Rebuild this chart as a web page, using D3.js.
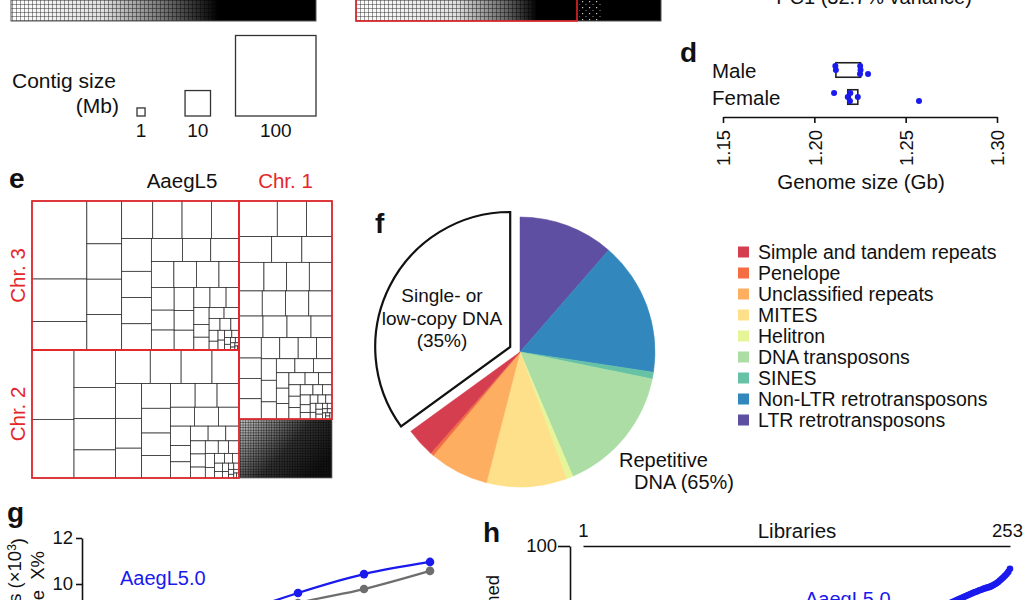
<!DOCTYPE html>
<html><head><meta charset="utf-8">
<script src="https://cdn.jsdelivr.net/npm/d3@7"></script>
<style>
body{margin:0;background:#fff}
svg{display:block}
text{font-family:"Liberation Sans",Arial,Helvetica,sans-serif;fill:#111}
</style>
</head><body>
<svg id="c" width="1024" height="600"></svg>
<script>
// ================= DATA =================
// panel c (legend of contig sizes)
const contigLegendMb = [1, 10, 100];
const contigLegendLabels = ["1", "10", "100"];
// panel d (genome size by flow cytometry, Gb)
const sexes = ["Male", "Female"];
const maleGb = [1.2115, 1.2118, 1.2250, 1.2251, 1.2253, 1.2294];
const femaleGb = [1.2108, 1.2183, 1.2195, 1.2197, 1.2238, 1.2573];
const genomeTicks = [1.15, 1.20, 1.25, 1.30];
// panel e (contig sizes in Mb per chromosome)
const chr3Contigs = [66,36,24,23,19,19,19,18,17,17,16,15,12,12,12,11,10,10,9,9,9,8,8,7,7,7,6,6,5,5,4,4,3,3,2.5,2.5,2,2,1.5,1.5,1.2,1,1,0.8,0.8,0.6,0.5,0.4,0.3,0.3,0.2,0.2,0.15,0.1];
const chr2Contigs = [45,38,24,20,20,18,18,16,16,14,14,12,12,11,11,10,10,9,8,8,7,7,6,6,5,5,4,4,3,3,3,2.5,2.5,2,2,2,1.5,1.5,1.2,1,1,0.8,0.8,0.6,0.5,0.5,0.4,0.3,0.3,0.2,0.2];
const chr1Contigs = [21,16,14,13,12,12,11,10,10,10,9,9,9,9,8,8,8,7,7,7,7,7,6,6,6,5,5,5,4,4,4,4,3,3,3,3,2.5,2.5,2,2,2,2,1.5,1.5,1.5,1.2,1,1,1,0.8,0.8,0.6,0.6,0.5,0.5,0.4,0.4,0.3,0.3,0.3,0.2,0.2,0.2];
const unplacedMb = 84.5;
// panel f (genome composition, %)
const repeatClasses = ["Simple and tandem repeats","Penelope","Unclassified repeats","MITES","Helitron","DNA transposons","SINES","Non-LTR retrotransposons","LTR retrotransposons"];
const repeatPct = [3.5, 0.4, 7.1, 9.6, 0.8, 15.4, 0.8, 16.0, 11.4];
const singleCopyPct = 35;
// panel g
const coverageX = [40, 50, 60, 70, 80, 90];
const aaegL5Genes = [5.6, 7.3, 8.6, 9.61, 10.43, 10.96];
const aaegL3Genes = [4.9, 6.6, 8.3, 9.17, 9.78, 10.57];
const gTicks = [4, 6, 8, 10, 12];
// panel h (aligned %, libraries 215..253, sorted)
const libFirst = 215;
const alignedTail = [76.5,77.0,77.3,77.6,77.9,78.2,78.5,78.8,79.1,79.4,79.7,80.0,80.3,80.6,80.9,81.2,81.5,81.8,82.0,82.3,82.6,82.8,83.1,83.3,83.5,83.7,83.9,84.2,84.5,84.9,85.3,85.8,86.4,87.0,87.6,88.3,89.0,89.8,91.0];
const libraryEnds = [1, 253];

// ================= STYLE =================
const repeatColors = ["#d53e4f","#f46d43","#fdae61","#fee08b","#e6f598","#abdda4","#66c2a5","#3288bd","#5e4fa2"];
const RED = "#e5262a", BLUE = "#1a1aee", GRAY = "#6e6e6e";
const FONT = '"Liberation Sans",Arial,sans-serif';

const svg = d3.select("#c");
const defs = svg.append("defs");
function gridPattern(id, s, col, sw){
  const p = defs.append("pattern").attr("id",id).attr("patternUnits","userSpaceOnUse").attr("width",s).attr("height",s);
  p.append("rect").attr("width",s).attr("height",s).attr("fill","#fff");
  p.append("path").attr("d",`M0,0H${s}M0,0V${s}`).attr("stroke",col).attr("stroke-width",sw).attr("fill","none");
}
gridPattern("gridA", 4, "#222", 0.9);
gridPattern("gridB", 2.6, "#111", 0.8);
function fade(id, stops, x2, y2){
  const g = defs.append("linearGradient").attr("id",id).attr("x1",0).attr("y1",0).attr("x2",x2).attr("y2",y2);
  stops.forEach(([o,a]) => g.append("stop").attr("offset",o).attr("stop-color","#000").attr("stop-opacity",a));
}
fade("fadeL", [[0,0],[0.3,0.12],[0.5,0.55],[0.68,1],[1,1]], 1, 0);
fade("fadeR", [[0,0],[0.45,0.12],[0.68,0.6],[0.82,1],[1,1]], 1, 0);
fade("fadeU", [[0,0.2],[0.25,0.45],[0.6,0.8],[1,0.93]], 1, 0.6);
const sp = defs.append("pattern").attr("id","speck").attr("patternUnits","userSpaceOnUse").attr("width",7).attr("height",6);
sp.append("rect").attr("width",7).attr("height",6).attr("fill","#000");
sp.append("rect").attr("x",1).attr("y",1).attr("width",1.2).attr("height",1.2).attr("fill","#fff");
sp.append("rect").attr("x",4.5).attr("y",4).attr("width",1).attr("height",1).attr("fill","#bbb");

// ================= TOP STRIPS (bottoms of panels a, b) =================
function strip(x, w, fadeId){
  svg.append("rect").attr("x",x).attr("y",-10).attr("width",w).attr("height",31).attr("fill","url(#gridA)");
  svg.append("rect").attr("x",x).attr("y",-10).attr("width",w).attr("height",31).attr("fill",`url(#${fadeId})`);
}
strip(11, 305, "fadeL");
svg.append("rect").attr("x",11).attr("y",-10).attr("width",305).attr("height",31).attr("fill","none").attr("stroke","#555").attr("stroke-width",1);
strip(356, 221, "fadeR");
svg.append("rect").attr("x",577).attr("y",-10).attr("width",84).attr("height",31).attr("fill","#000");
svg.append("rect").attr("x",579).attr("y",-10).attr("width",22).attr("height",31).attr("fill","url(#speck)").attr("opacity",0.8);
svg.append("rect").attr("x",356).attr("y",-10).attr("width",305).attr("height",31).attr("fill","none").attr("stroke","#555").attr("stroke-width",1);
svg.append("rect").attr("x",356).attr("y",-10).attr("width",221).attr("height",31).attr("fill","none").attr("stroke",RED).attr("stroke-width",1.6);

svg.append("text").attr("x",874).attr("y",4).attr("text-anchor","middle").style("font-size","20px").text("PC1 (32.7% variance)");

// ================= CONTIG SIZE LEGEND =================
svg.append("text").attr("x",12).attr("y",88).style("font-size","21px").text("Contig size");
svg.append("text").attr("x",119).attr("y",113).attr("text-anchor","end").style("font-size","21px").text("(Mb)");
const sqScale = d3.scaleSqrt().domain([0,100]).range([0,80.5]);
const legGaps = [0, 40, 25];
let cx = 137; const legPos = [];
contigLegendMb.forEach((v,i) => { cx += legGaps[i]; legPos.push(cx); cx += sqScale(v); });
const legG = svg.append("g");
contigLegendMb.forEach((v,i) => {
  const s = sqScale(v);
  legG.append("rect").attr("x",legPos[i]).attr("y",116-s).attr("width",s).attr("height",s)
    .attr("fill","#fff").attr("stroke","#333").attr("stroke-width",1.3);
  legG.append("text").attr("x",legPos[i]+s/2).attr("y",137).attr("text-anchor","middle").style("font-size","19px").text(contigLegendLabels[i]);
});

// ================= PANEL d =================
svg.append("text").attr("x",680).attr("y",62).style("font-size","28px").style("font-weight","bold").text("d");
const xD = d3.scaleLinear().domain([1.15,1.30]).range([723,997]);
const yD = d3.scalePoint().domain(sexes).range([70,97]);
sexes.forEach(s => svg.append("text").attr("x",712).attr("y",yD(s)+8).style("font-size","20.5px").text(s));
const axD = svg.append("g").attr("transform","translate(0,117)")
  .call(d3.axisBottom(xD).tickValues(genomeTicks).tickFormat(d3.format(".2f")).tickSize(6).tickSizeOuter(0));
axD.select(".domain").attr("stroke","#111").attr("stroke-width",1.6);
axD.selectAll(".tick line").attr("stroke","#111").attr("stroke-width",1.6);
axD.selectAll(".tick text").attr("transform","rotate(-90)").attr("text-anchor","end")
  .attr("x",-13).attr("y",0).attr("dy","0.36em").style("font-size","18.5px")
  .style("font-family",FONT).attr("fill","#111");
svg.append("text").attr("x",861).attr("y",189).attr("text-anchor","middle").style("font-size","20.5px").text("Genome size (Gb)");
function tukey(arr){
  const s = arr.slice().sort(d3.ascending), n = s.length, h = Math.floor(n/2);
  const lo = s.slice(0, n%2 ? h+1 : h), hi = s.slice(h);
  return {q1:d3.median(lo), med:d3.median(s), q3:d3.median(hi)};
}
[[sexes[0], maleGb],[sexes[1], femaleGb]].forEach(([s, vals]) => {
  const st = tukey(vals), cy = yD(s), bh = 14.5;
  svg.append("rect").attr("x",xD(st.q1)).attr("y",cy-bh/2).attr("width",xD(st.q3)-xD(st.q1)).attr("height",bh)
    .attr("fill","none").attr("stroke","#222").attr("stroke-width",1.6);
  svg.append("line").attr("x1",xD(st.med)).attr("x2",xD(st.med)).attr("y1",cy-bh/2).attr("y2",cy+bh/2).attr("stroke","#222").attr("stroke-width",2);
  vals.forEach((v,i) => {
    svg.append("circle").attr("cx",xD(v)).attr("cy",cy + ((i%3)-1)*4).attr("r",3).attr("fill",BLUE);
  });
});

// ================= PANEL e (treemap) =================
svg.append("text").attr("x",9).attr("y",188).style("font-size","28px").style("font-weight","bold").text("e");
const hier = {children:[
  {name:"left", children:[
    {name:"Chr. 3", children: chr3Contigs.map(v=>({value:v}))},
    {name:"Chr. 2", children: chr2Contigs.map(v=>({value:v}))}]},
  {name:"right", children:[
    {name:"Chr. 1", children: chr1Contigs.map(v=>({value:v}))},
    {name:"Unplaced", value: unplacedMb, unplaced: true}]}
]};
const root = d3.hierarchy(hier).sum(d => d.children ? 0 : d.value).sort((a,b) => b.value - a.value);
const sq = d3.treemapSquarify.ratio(1);
d3.treemap().size([300,277]).tile((node,x0,y0,x1,y1) => {
  if (node.depth === 0) d3.treemapDice(node,x0,y0,x1,y1);
  else if (node.depth === 1) d3.treemapSlice(node,x0,y0,x1,y1);
  else sq(node,x0,y0,x1,y1);
})(root);
const eG = svg.append("g").attr("transform","translate(32,201)");
root.leaves().forEach(l => {
  if (l.data.unplaced){
    eG.append("rect").attr("x",l.x0).attr("y",l.y0).attr("width",l.x1-l.x0).attr("height",l.y1-l.y0).attr("fill","url(#gridB)");
    eG.append("rect").attr("x",l.x0).attr("y",l.y0).attr("width",l.x1-l.x0).attr("height",l.y1-l.y0).attr("fill","url(#fadeU)")
      .attr("stroke","#777").attr("stroke-width",0.8);
  } else {
    eG.append("rect").attr("x",l.x0).attr("y",l.y0).attr("width",l.x1-l.x0).attr("height",l.y1-l.y0)
      .attr("fill","#fff").attr("stroke","#2a2a2a").attr("stroke-width",0.75);
  }
});
const chrNodes = root.descendants().filter(d => d.depth === 2 && !d.data.unplaced);
chrNodes.forEach(c => {
  eG.append("rect").attr("x",c.x0).attr("y",c.y0).attr("width",c.x1-c.x0).attr("height",c.y1-c.y0)
    .attr("fill","none").attr("stroke",RED).attr("stroke-width",1.7);
  if (c.data.name === "Chr. 1"){
    eG.append("text").attr("x",(c.x0+c.x1)/2).attr("y",-13).attr("text-anchor","middle").style("font-size","20.5px").style("fill",RED).text(c.data.name);
  } else {
    eG.append("text").attr("transform",`translate(-7,${(c.y0+c.y1)/2}) rotate(-90)`).attr("text-anchor","middle")
      .style("font-size","20.5px").style("fill",RED).text(c.data.name);
  }
});
svg.append("text").attr("x",182).attr("y",188).attr("text-anchor","middle").style("font-size","20.5px").text("AaegL5");

// ================= PANEL f (pie) =================
svg.append("text").attr("x",375).attr("y",233).style("font-size","28px").style("font-weight","bold").text("f");
const pieData = repeatClasses.map((n,i) => ({name:n, value:repeatPct[i], color:repeatColors[i]})).reverse();
pieData.push({name:"single", value:singleCopyPct, color:"#fff", single:true});
const arcs = d3.pie().sort(null).value(d => d.value)(pieData);
const arcGen = d3.arc().innerRadius(0).outerRadius(135);
const pG = svg.append("g").attr("transform","translate(520,352)");
arcs.forEach(a => {
  if (a.data.single){
    const mid = (a.startAngle + a.endAngle)/2;
    pG.append("path").attr("d",arcGen(a)).attr("transform",`translate(${Math.sin(mid)*11},${-Math.cos(mid)*11})`)
      .attr("fill","#fff").attr("stroke","#111").attr("stroke-width",2.2).attr("stroke-linejoin","miter");
  } else {
    pG.append("path").attr("d",arcGen(a)).attr("fill",a.data.color).attr("stroke",a.data.color).attr("stroke-width",0.5);
  }
});
["Single- or","low-copy DNA","(35%)"].forEach((t,i) =>
  svg.append("text").attr("x",442).attr("y",302 + i*22.5).attr("text-anchor","middle").style("font-size","19px").text(t));
svg.append("text").attr("x",619).attr("y",467).style("font-size","20px").text("Repetitive");
svg.append("text").attr("x",634).attr("y",489).style("font-size","20px").text("DNA (65%)");
const yLeg = d3.scalePoint().domain(repeatClasses).range([252,420]);
repeatClasses.forEach((n,i) => {
  svg.append("rect").attr("x",738).attr("y",yLeg(n)-5.5).attr("width",11).attr("height",11).attr("fill",repeatColors[i]);
  svg.append("text").attr("x",758).attr("y",yLeg(n)).attr("dy","0.36em").style("font-size","19.5px").text(n);
});

// ================= PANEL g =================
svg.append("text").attr("x",7).attr("y",522).style("font-size","28px").style("font-weight","bold").text("g");
const xG = d3.scaleLinear().domain([40,90]).range([100,430]);
const yG = d3.scaleLinear().domain([4,12]).range([722,538]);
const axG = svg.append("g").attr("transform","translate(82,0)").call(d3.axisLeft(yG).tickValues(gTicks).tickSize(6).tickSizeOuter(0));
axG.select(".domain").attr("stroke","#111").attr("stroke-width",1.6);
axG.selectAll(".tick line").attr("stroke","#111").attr("stroke-width",1.6);
axG.selectAll(".tick text").style("font-size","18.5px").style("font-family",FONT).attr("fill","#111");
const yl1 = svg.append("text").attr("transform","translate(21,538) rotate(-90)").attr("text-anchor","end").style("font-size","18.5px");
yl1.append("tspan").text("Number of genes (×10");
yl1.append("tspan").attr("dy","-0.45em").style("font-size","12px").text("3");
yl1.append("tspan").attr("dy","0.45em").text(")");
svg.append("text").attr("transform","translate(44,551) rotate(-90)").attr("text-anchor","end").style("font-size","18.5px").text("covered at size\u00a0\u00a0X%");
const lineG = d3.line().x((d,i) => xG(coverageX[i])).y(d => yG(d)).curve(d3.curveMonotoneX);
[[aaegL3Genes, GRAY],[aaegL5Genes, BLUE]].forEach(([vals,col]) => {
  svg.append("path").attr("d",lineG(vals)).attr("fill","none").attr("stroke",col).attr("stroke-width",2.2);
  vals.forEach((v,i) => svg.append("circle").attr("cx",xG(coverageX[i])).attr("cy",yG(v)).attr("r",4.3).attr("fill",col));
});
svg.append("text").attr("x",120).attr("y",585).style("font-size","20px").style("fill",BLUE).text("AaegL5.0");

// ================= PANEL h =================
svg.append("text").attr("x",483).attr("y",542).style("font-size","28px").style("font-weight","bold").text("h");
const xH = d3.scaleLinear().domain([1,253]).range([583,1010]);
const yH = d3.scaleLinear().domain([0,100]).range([800,546]);
const axH = svg.append("g").attr("transform","translate(570,0)").call(d3.axisLeft(yH).tickValues([0,50,100]).tickSize(12).tickPadding(1).tickSizeOuter(0));
axH.select(".domain").attr("stroke","#111").attr("stroke-width",1.6);
axH.selectAll(".tick line").attr("stroke","#111").attr("stroke-width",1.6);
axH.selectAll(".tick text").style("font-size","18.5px").style("font-family",FONT).attr("fill","#111");
const axT = svg.append("g").attr("transform","translate(0,546)").call(d3.axisTop(xH).tickValues(libraryEnds).tickSize(0).tickPadding(9).tickSizeOuter(0));
axT.select(".domain").attr("stroke","#111").attr("stroke-width",1.6);
axT.selectAll(".tick text").style("font-size","18.5px").style("font-family",FONT).attr("fill","#111");
axT.selectAll(".tick text").filter(d => d === 253).attr("dx","-3");
svg.append("text").attr("x",797).attr("y",538).attr("text-anchor","middle").style("font-size","20.5px").text("Libraries");
svg.append("text").attr("transform","translate(499,575) rotate(-90)").attr("text-anchor","end").style("font-size","18.5px").text("% reads aligned");
alignedTail.forEach((v,i) => svg.append("circle").attr("cx",xH(libFirst+i)).attr("cy",yH(v)).attr("r",3.3).attr("fill",BLUE));
svg.append("text").attr("x",805).attr("y",606).style("font-size","20px").style("fill",BLUE).text("AaegL5.0");
</script>
</body></html>
